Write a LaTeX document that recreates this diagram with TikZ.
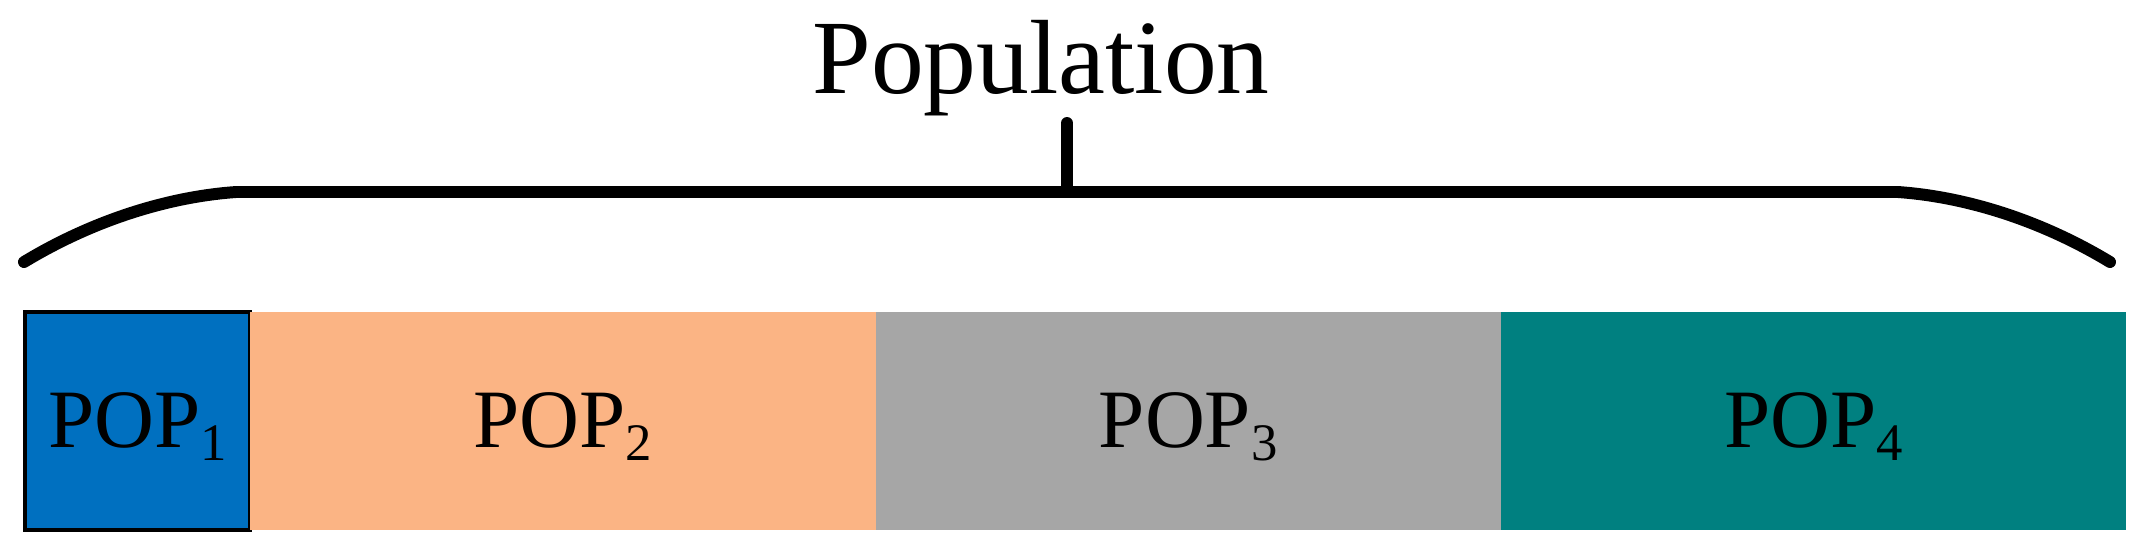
\documentclass[tikz,border=0pt]{standalone}
\usepackage{fontspec}
\setmainfont{Liberation Serif}
\usetikzlibrary{positioning}
\definecolor{popblue}{RGB}{0,112,192}
\definecolor{poporange}{RGB}{251,180,132}
\definecolor{popgray}{RGB}{166,166,166}
\definecolor{popteal}{RGB}{0,128,128}
\newcommand\popsub[1]{\raisebox{-3.7pt}{\fontsize{15}{15}\selectfont #1}}
\tikzset{
every picture/.style={
line width=1pt
},
popbox/.style={minimum height=2.18cm, minimum width=6.25cm, inner sep=0pt,
  outer sep=0pt, text height=18pt, text depth=3pt,
  font=\fontsize{23.6}{28}\selectfont},
brace/.style={line width=3.4pt, line cap=round}
}

\begin{document}
\begin{tikzpicture}[x=0.01cm,y=-0.01cm]
\useasboundingbox (0,0) rectangle (2146,550);
   % the four parts:
   \node [popbox, minimum width=2.25cm, fill=popblue, draw, line width=1pt,
   anchor=north west] (pop1) at (25,312) {POP\popsub{1}};
   \node [popbox, fill=poporange, right=0pt of pop1] (pop2) {POP\popsub{2}};
   \node [popbox, fill=popgray, right=0pt of pop2] (pop3) {POP\popsub{3}};
   \node [popbox, fill=popteal, right=0pt of pop3] (pop4) {POP\popsub{4}};
   % 
   % brace and title:
   \node [font=\fontsize{30}{36}\selectfont, anchor=base] (title) at (1041,93) {Population};
   \coordinate (tick) at (1067,192);
   \draw [brace] (tick) -- (tick |- 0,123);
   \draw [brace] (24,262) .. controls (90,222) and (165,197) .. (236,192)
     -- (1898,192) .. controls (1969,197) and (2044,222) .. (2110,262);
\end{tikzpicture}
\end{document}
